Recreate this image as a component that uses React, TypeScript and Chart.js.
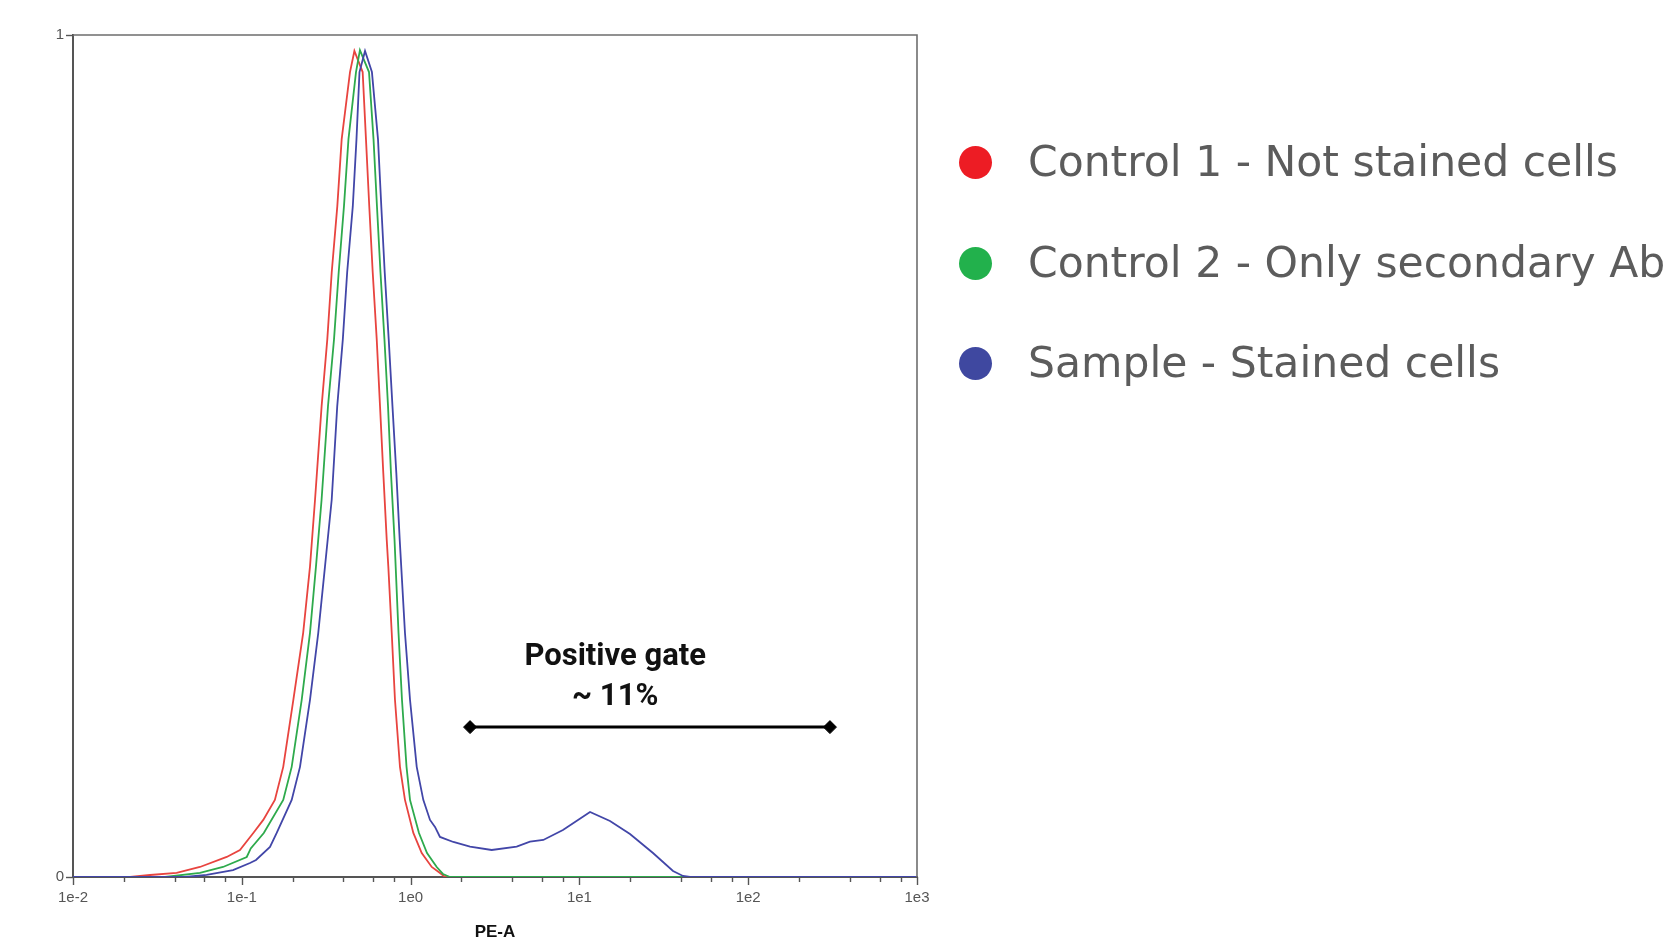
import React, { useEffect, useRef } from 'react';
import { Chart, registerables } from 'chart.js';

Chart.register(...registerables);

// ---- Series names & colours ----
const SERIES_NAMES = ['Control 1 - Not stained cells', 'Control 2 - Only secondary Ab', 'Sample - Stained cells'];
const LINE_COLORS = ['#e8443f', '#2eaa4c', '#4246a8'];
const DOT_COLORS = ['#ed1c24', '#22b14c', '#3f48a0'];

// ---- Control 1 (red) ----
const RED_X = [0.01, 0.0218, 0.0286, 0.0411, 0.0565, 0.0814, 0.0975, 0.117, 0.134, 0.157, 0.176, 0.202, 0.231, 0.2535, 0.2716, 0.297, 0.321, 0.341, 0.368, 0.3906, 0.4375, 0.4645, 0.52, 0.544, 0.569, 0.5964, 0.63, 0.659, 0.689, 0.722, 0.738, 0.773, 0.808, 0.865, 0.926, 1.038, 1.164, 1.334, 1.493, 1.6, 1000];
const RED_Y = [0, 0, 0.0024, 0.0048, 0.0119, 0.0238, 0.0321, 0.0523, 0.0678, 0.0916, 0.1308, 0.2105, 0.29, 0.3686, 0.4483, 0.5589, 0.6385, 0.7182, 0.7967, 0.8763, 0.956, 0.981, 0.956, 0.8763, 0.7967, 0.7182, 0.6385, 0.5589, 0.48, 0.4007, 0.3686, 0.29, 0.2105, 0.1308, 0.0916, 0.0523, 0.0285, 0.0119, 0.0048, 0, 0];

// ---- Control 2 (green) ----
const GREEN_X = [0.01, 0.0351, 0.0565, 0.0774, 0.107, 0.113, 0.135, 0.176, 0.1975, 0.2264, 0.2535, 0.275, 0.297, 0.324, 0.3518, 0.375, 0.403, 0.4285, 0.4748, 0.501, 0.567, 0.603, 0.632, 0.663, 0.7, 0.735, 0.765, 0.803, 0.848, 0.889, 0.946, 0.992, 1.121, 1.251, 1.428, 1.555, 1.711, 1000];
const GREEN_Y = [0, 0, 0.0048, 0.0119, 0.0238, 0.034, 0.0523, 0.0916, 0.1308, 0.2105, 0.29, 0.3686, 0.4483, 0.5589, 0.6385, 0.7182, 0.7967, 0.8763, 0.956, 0.982, 0.956, 0.8763, 0.7967, 0.7182, 0.6385, 0.5589, 0.48, 0.4007, 0.29, 0.2105, 0.1308, 0.0916, 0.0523, 0.0285, 0.0119, 0.0036, 0, 0];

// ---- Sample (blue) ----
const BLUE_X = [0.01, 0.0461, 0.0619, 0.0887, 0.1118, 0.1214, 0.1469, 0.161, 0.1975, 0.2212, 0.2535, 0.2838, 0.311, 0.341, 0.3675, 0.3967, 0.421, 0.4546, 0.478, 0.498, 0.537, 0.59, 0.641, 0.6705, 0.7025, 0.742, 0.781, 0.823, 0.862, 0.926, 0.992, 1.087, 1.189, 1.303, 1.395, 1.493, 1.791, 2.249, 3.022, 4.25, 5.096, 6.11, 7.99, 11.56, 15.18, 19.94, 27.29, 35.86, 41.1, 45.2, 1000];
const BLUE_Y = [0, 0, 0.0024, 0.0083, 0.0166, 0.0202, 0.0357, 0.0523, 0.0916, 0.1308, 0.2105, 0.29, 0.3686, 0.4483, 0.5589, 0.6385, 0.7182, 0.7967, 0.8763, 0.956, 0.981, 0.956, 0.8763, 0.7967, 0.7182, 0.6385, 0.5589, 0.48, 0.4007, 0.29, 0.2105, 0.1308, 0.0916, 0.0678, 0.0595, 0.0476, 0.0416, 0.036, 0.0321, 0.036, 0.0419, 0.044, 0.0559, 0.0773, 0.0666, 0.0511, 0.0285, 0.0071, 0.0012, 0, 0];

// ---- Positive gate annotation ----
const GATE_X = [2.25, 305];
const GATE_Y = [0.178, 0.178];
const GATE_LABELS = ['Positive gate', '~ 11%'];
const GATE_LABEL_X = 16.3;
const GATE_LABEL_Y = [0.261, 0.213];

// ---- Axes ----
const X_MAJOR = [0.01, 0.1, 1, 10, 100, 1000];
const X_TICK_LABELS = ['1e-2', '1e-1', '1e0', '1e1', '1e2', '1e3'];
const X_MINOR_MULT = [2, 4, 6, 8];
const Y_TICKS = [0, 1];
const Y_TICK_LABELS = ['0', '1'];
const X_TITLE = 'PE-A';

const zip = (xs: number[], ys: number[]) => xs.map((x, i) => ({ x, y: ys[i] }));

const framePlugin = {
  id: 'frameAndNotes',
  afterDraw(chart: any) {
    const { ctx, chartArea: a, scales } = chart;
    const sx = scales.x;
    const sy = scales.y;
    ctx.save();
    // top & right frame
    ctx.strokeStyle = '#6e6e6e';
    ctx.lineWidth = 1.6;
    ctx.beginPath();
    ctx.moveTo(a.left, a.top);
    ctx.lineTo(a.right, a.top);
    ctx.lineTo(a.right, a.bottom);
    ctx.stroke();
    // x tick marks
    ctx.strokeStyle = '#555';
    ctx.lineWidth = 1.4;
    sx.ticks.forEach((t: any) => {
      const px = Math.round(sx.getPixelForValue(t.value)) + 0.5;
      const major = X_MAJOR.indexOf(t.value) >= 0;
      ctx.beginPath();
      ctx.moveTo(px, a.bottom);
      ctx.lineTo(px, a.bottom + (major ? 8 : 5));
      ctx.stroke();
    });
    // y tick marks
    sy.ticks.forEach((t: any) => {
      const py = Math.round(sy.getPixelForValue(t.value)) + 0.5;
      ctx.beginPath();
      ctx.moveTo(a.left, py);
      ctx.lineTo(a.left - 7, py);
      ctx.stroke();
    });
    // gate text
    ctx.fillStyle = '#111';
    ctx.font = 'bold 31px Roboto, "Liberation Sans", Arial, sans-serif';
    ctx.textAlign = 'center';
    ctx.textBaseline = 'middle';
    GATE_LABELS.forEach((s, i) => {
      ctx.fillText(s, sx.getPixelForValue(GATE_LABEL_X), sy.getPixelForValue(GATE_LABEL_Y[i]));
    });
    ctx.restore();
  },
};

function FlowChart() {
  const ref = useRef<HTMLCanvasElement | null>(null);
  useEffect(() => {
    if (!ref.current) return;
    const series = [zip(RED_X, RED_Y), zip(GREEN_X, GREEN_Y), zip(BLUE_X, BLUE_Y)];
    const datasets: any[] = series.map((d, i) => ({
      label: SERIES_NAMES[i],
      data: d,
      borderColor: LINE_COLORS[i],
      backgroundColor: LINE_COLORS[i],
      borderWidth: 1.8,
      pointRadius: 0,
      showLine: true,
      tension: 0,
      order: 3 - i,
    }));
    datasets.push({
      label: 'Positive gate',
      data: zip(GATE_X, GATE_Y),
      borderColor: '#000',
      backgroundColor: '#000',
      borderWidth: 3,
      pointStyle: 'rectRot',
      pointRadius: 6.5,
      pointBorderWidth: 1,
      showLine: true,
      order: 0,
    });
    const chart = new Chart(ref.current, {
      type: 'scatter',
      data: { datasets },
      plugins: [framePlugin],
      options: {
        animation: false,
        responsive: false,
        layout: { padding: { left: 0, top: 35, right: 755, bottom: 0 } },
        plugins: { legend: { display: false }, tooltip: { enabled: false } },
        scales: {
          x: {
            type: 'logarithmic',
            min: 0.01,
            max: 1000,
            afterBuildTicks: (s: any) => {
              const ticks: any[] = [];
              X_MAJOR.forEach((m, i) => {
                ticks.push({ value: m });
                if (i < X_MAJOR.length - 1) X_MINOR_MULT.forEach((k) => ticks.push({ value: k * m }));
              });
              s.ticks = ticks;
            },
            afterFit: (s: any) => {
              s.height = 68;
            },
            grid: { display: false, drawTicks: false },
            border: { display: true, color: '#555', width: 2 },
            ticks: {
              autoSkip: false,
              maxRotation: 0,
              padding: 12,
              color: '#555',
              font: { family: '"Liberation Sans", Arial, sans-serif', size: 15 },
              callback: (v: any) => {
                const idx = X_MAJOR.indexOf(Number(v));
                return idx >= 0 ? X_TICK_LABELS[idx] : '';
              },
            },
            title: {
              display: true,
              text: X_TITLE,
              color: '#111',
              font: { family: '"Liberation Sans", Arial, sans-serif', size: 17, weight: 'bold' },
              padding: { top: 0, bottom: 2 },
            },
          },
          y: {
            type: 'linear',
            min: 0,
            max: 1,
            afterBuildTicks: (s: any) => {
              s.ticks = Y_TICKS.map((v) => ({ value: v }));
            },
            afterFit: (s: any) => {
              s.width = 73;
            },
            grid: { display: false, drawTicks: false },
            border: { display: true, color: '#555', width: 2 },
            ticks: {
              padding: 9,
              color: '#555',
              font: { family: '"Liberation Sans", Arial, sans-serif', size: 15 },
              callback: (v: any) => {
                const idx = Y_TICKS.indexOf(Number(v));
                return idx >= 0 ? Y_TICK_LABELS[idx] : '';
              },
            },
          },
        },
      } as any,
    });
    return () => chart.destroy();
  }, []);

  return (
    <canvas
      ref={ref}
      width={1672}
      height={945}
      style={{ position: 'absolute', left: 0, top: 0, width: 1672, height: 945, display: 'block' }}
    />
  );
}

const LEGEND_CENTERS = [162, 263, 363];

export default function App() {
  return (
    <div style={{ position: 'fixed', left: 0, top: 0, width: 1672, height: 945, overflow: 'hidden', background: '#fff' }}>
      <FlowChart />
      {SERIES_NAMES.map((name, i) => (
        <div
          key={name}
          style={{
            position: 'absolute',
            left: 959,
            top: LEGEND_CENTERS[i] - 30,
            height: 60,
            display: 'flex',
            alignItems: 'center',
            whiteSpace: 'nowrap',
          }}
        >
          <span
            style={{
              display: 'inline-block',
              width: 33,
              height: 33,
              borderRadius: '50%',
              background: DOT_COLORS[i],
              marginRight: 36,
              flex: 'none',
            }}
          />
          <span style={{ fontFamily: '"DejaVu Sans", Verdana, sans-serif', fontSize: 42.5, color: '#5c5c5c', lineHeight: '60px' }}>
            {name}
          </span>
        </div>
      ))}
    </div>
  );
}
